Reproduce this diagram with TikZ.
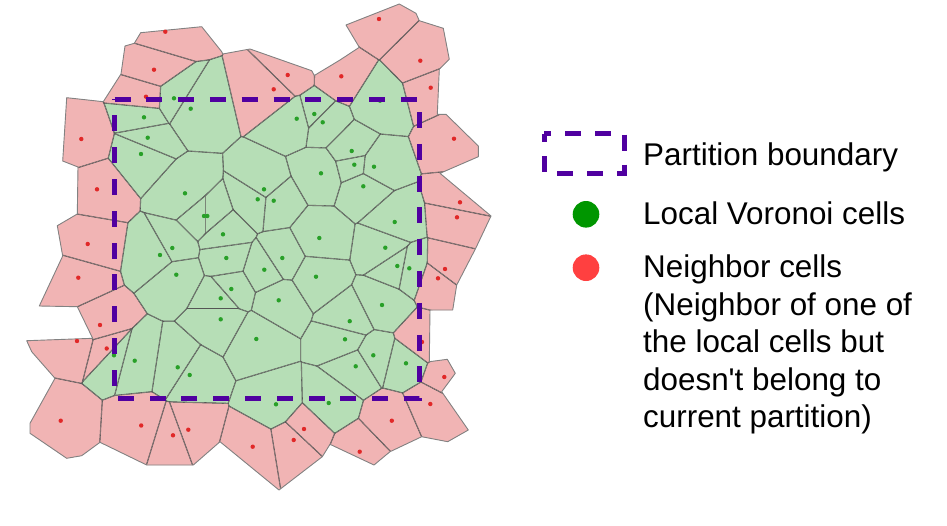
\documentclass[tikz,border=0pt]{standalone}
\usepackage{fontspec}
\newfontfamily\legfont{Liberation Sans}
\definecolor{cellg}{RGB}{182,222,182}
\definecolor{cellr}{RGB}{241,180,180}
\definecolor{dotg}{RGB}{40,160,40}
\definecolor{dotr}{RGB}{225,40,40}
\definecolor{edgecol}{RGB}{85,85,85}
\definecolor{rimcol}{RGB}{130,130,130}
\definecolor{partcol}{RGB}{80,0,160}
\definecolor{legg}{RGB}{0,150,0}
\definecolor{legr}{RGB}{255,64,64}
% Voronoi sites (image pixel coordinates) and cell kind
\newcommand\vsites{165.3/31.7/r,154/69.7/r,146/96.7/r,81.3/139/r,287.7/75/r,273.7/89.3/r,379/19/r,420.3/60.7/r,341.3/76.3/r,430.7/87.7/r,454/138.7/r,97/189.3/r,87.7/244/r,78.3/277.7/r,100/325/r,460/202.3/r,457/217.3/r,445/269/r,438/278.3/r,77/341/r,106.7/348.5/r,60.7/420.7/r,141.2/425.5/r,173/435.3/r,188.3/429.7/r,252.7/446.7/r,304/429/r,293.7/440/r,422/342/r,444.3/377/r,430.3/404/r,391.8/420.7/r,359.7/451.7/r,174/98.3/g,144/117.3/g,147.7/137.7/g,141/154/g,190.7/108.7/g,296.7/118.7/g,314.3/114/g,322.7/122.3/g,380/100.7/g,351.7/151/g,354.3/164.7/g,374/166.7/g,172.3/248/g,160/255/g,176.3/274.7/g,185/193.3/g,204/216/g,207.3/216/g,223/234.3/g,226.3/258/g,231.3/289/g,220.7/298.3/g,220.7/319.3/g,264/189.3/g,257.7/199.3/g,273.7/200.7/g,321/173.3/g,319.3/238/g,282.3/258/g,264.3/269.7/g,316/276.7/g,278.7/300.3/g,363.3/186.3/g,394.7/222/g,385.3/247.7/g,397.3/266/g,409.3/268.3/g,382/305/g,349.7/321.2/g,114/355.3/g,134.7/360.7/g,177.7/367.3/g,256.3/339/g,189.7/375/g,276/404.3/g,328.7/403/g,345/339.3/g,373.3/355.3/g,355.7/366.3/g,406/363.3/g}
% outline of the shown cells
\newcommand\vouter{(66.7,97.7) -- (103.3,101.7) -- (121,74) -- (125,46) -- (134.3,43.3) -- (140.7,32.7) -- (201.7,26.7) -- (221.7,51.7) -- (222.7,54) -- (250,49) -- (311.7,70.7) -- (314.3,75.5) -- (340,60) -- (359.3,47.3) -- (346,25) -- (399.3,4) -- (416,13.3) -- (419.3,20.7) -- (443.3,28.3) -- (449.3,59.3) -- (439.3,69.3) -- (437.3,114.3) -- (446,114.3) -- (478.3,146) -- (478.3,156.7) -- (440,173.3) -- (491,216) -- (475.7,248.3) -- (456.7,285) -- (452.7,310) -- (430,310) -- (429.3,361.7) -- (447.3,359.3) -- (455.3,373.3) -- (441.7,391.7) -- (468.3,430) -- (447.7,441.7) -- (421.7,436.7) -- (390,451.7) -- (374,465) -- (330,444.3) -- (322.3,456.7) -- (279,490) -- (220,441.7) -- (193.3,465) -- (146.7,465) -- (100,442.3) -- (81.7,455.7) -- (66.7,458.3) -- (30,433.3) -- (30,423.3) -- (55,378.3) -- (31.7,351.7) -- (26.7,340.7) -- (92.7,338.3) -- (77.3,306.7) -- (39.3,306) -- (62.7,256) -- (57.3,225.7) -- (77.3,214) -- (78,167) -- (62.7,161) -- cycle}
% half-plane of one site against another: clip to it, or stroke its border
\newcommand\vhpclip[3]{{\pgftransformshift{\pgfpoint{#1}{-#2}}\pgftransformrotate{#3}%
  \pgfpathrectanglecorners{\pgfpoint{0pt}{-700pt}}{\pgfpoint{700pt}{700pt}}\pgfusepath{clip}}}
\newcommand\vhpdraw[3]{{\pgftransformshift{\pgfpoint{#1}{-#2}}\pgftransformrotate{#3}%
  \pgfpathmoveto{\pgfpoint{0pt}{-700pt}}\pgfpathlineto{\pgfpoint{0pt}{700pt}}\pgfusepath{stroke}}}
\newdimen\vthr \vthr=125pt
\begin{document}
\begin{tikzpicture}[x=1pt,y=-1pt,
  rim/.style={draw=rimcol,line width=0.9pt,line join=round},
  partline/.style={draw=partcol,line width=5pt,line cap=butt,dash pattern=on 16pt off 15.8pt},
  legline/.style={draw=partcol,line width=5pt,line cap=butt,dash pattern=on 16pt off 14pt,dash phase=9pt},
  legtext/.style={font=\legfont\fontsize{31.4}{37.6}\selectfont,inner sep=0pt,anchor=base west,align=left}]
\useasboundingbox (0,0) rectangle (947,525);
\fill[cellr] \vouter;
% cells: each one is the intersection of half-planes, cut by the outline
\begin{scope}
\clip \vouter;
\foreach \xi/\yi/\ci [count=\i] in \vsites {
  \global\let\vnlist\empty
  \let\vhp\relax
  \foreach \xj/\yj/\cj [count=\j] in \vsites {
    \ifnum\i=\j\relax\else
     \ifdim\dimexpr\xi pt-\xj pt\relax<\vthr
      \ifdim\dimexpr\xj pt-\xi pt\relax<\vthr
       \ifdim\dimexpr\yi pt-\yj pt\relax<\vthr
        \ifdim\dimexpr\yj pt-\yi pt\relax<\vthr
          \edef\vmx{\the\dimexpr(\xi pt+\xj pt)/2\relax}%
          \edef\vmy{\the\dimexpr(\yi pt+\yj pt)/2\relax}%
          \pgfmathsetmacro\vang{atan2(\yj-\yi,\xi-\xj)}%
          \xdef\vnlist{\vnlist\vhp{\vmx}{\vmy}{\vang}}%
        \fi
       \fi
      \fi
     \fi
    \fi
  }
  \begin{scope}
    \let\vhp\vhpclip \vnlist
    \fill[cell\ci] (0,0) rectangle (947,525);
    \pgfsetlinewidth{1.1pt}\pgfsetstrokecolor{edgecol}%
    \let\vhp\vhpdraw \vnlist
  \end{scope}
}
\end{scope}
\draw[rim] \vouter;
% sites
\foreach \x/\y/\c in \vsites { \fill[dot\c] (\x,\y) circle (2.2pt); }
% partition boundary
\draw[partline] (114.5,99.3) -- (419.8,99.3) -- (419.8,398.3) -- (114.5,398.3) -- cycle;
% legend
\draw[legline] (544.2,133.5) -- (624.2,133.5) -- (624.2,173.2) -- (544.2,173.2) -- cycle;
\fill[legg] (586,214.3) circle (13.3pt);
\fill[legr] (586,267.7) circle (13.3pt);
\node[legtext] (t1) at (643,165) {Partition boundary};
\node[legtext] (t2) at (643,224.5) {Local Voronoi cells};
\node[legtext] (t3) at (643,427.9) {Neighbor cells\\(Neighbor of one of\\the local cells but\\doesn't belong to\\current partition)};
\end{tikzpicture}
\end{document}
